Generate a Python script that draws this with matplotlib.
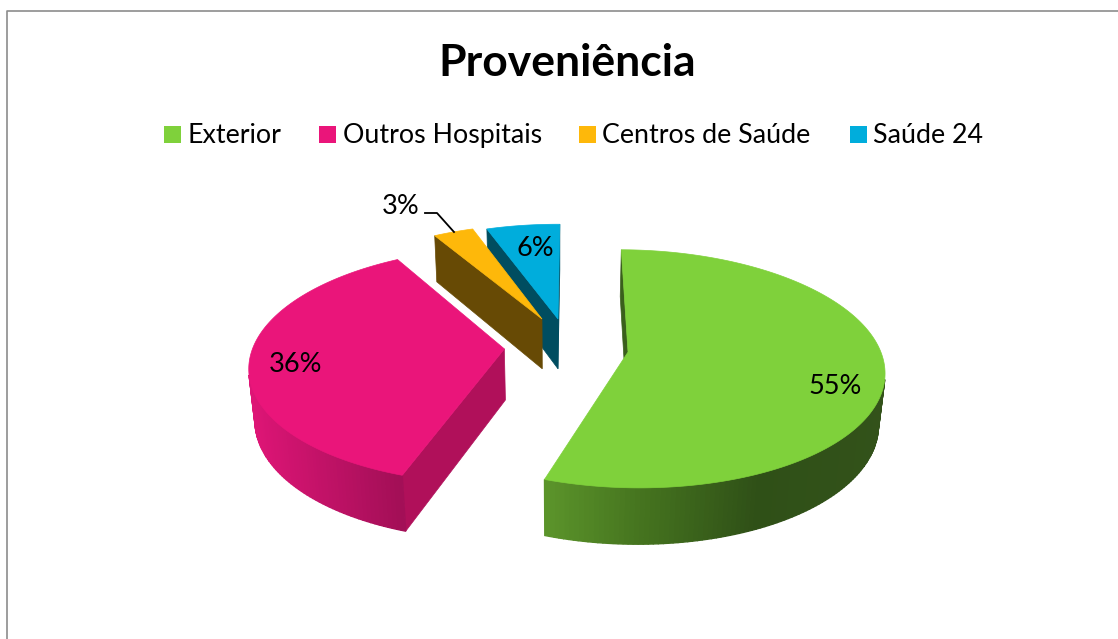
import numpy as np
import matplotlib
matplotlib.use('Agg')
import matplotlib.pyplot as plt
from matplotlib.colors import to_rgb

plt.rcParams['font.family'] = ['Lato', 'DejaVu Sans']

# data
categories = ['Exterior', 'Outros Hospitais', 'Centros de Saúde', 'Saúde 24']
values = [55.1, 36.4, 3.0, 5.5]

# colours
top_colors = ['#7FD13B', '#EA157A', '#FEB80A', '#00ADDC']
wall_colors = ['#3A5F1C', '#B0105A', '#674A05', '#004D60']
# outer wall shading, by screen x
shade_x = [[545, 640, 760, 890], [250, 400, 410, 420], [0, 1], [0, 1]]
shade_c = [['#5C952B', '#46751F', '#2F5017', '#33521A'],
           ['#DE1576', '#A30F57', '#A30F57', '#A30F57'],
           ['#674A05', '#674A05'], ['#004D60', '#004D60']]

# view settings (pixels)
vx, cy = 558, 346
a, b, h = 251, 115, 52
p, q = 0.14, 0.02
first_angle = 0.5
# how far each slice is pulled out, in radii
offset_x = [0.277, -0.213, -0.066, 0.0]
offset_y = [0.052, 0.025, -0.243, -0.243]


def project(x, y, z=0.0):
    w = 1 - p * y + q * z
    return vx + a * x / w, cy + (b * y + h * z) / w


def signed_area(pts):
    pts = np.array(pts)
    x, y = pts[:, 0], pts[:, 1]
    return np.sum(x * np.roll(y, -1) - np.roll(x, -1) * y) / 2


def draw_slice(ax, i, t0, t1):
    ox, oy = offset_x[i], offset_y[i]
    th = np.radians(np.linspace(t0, t1, int(t1 - t0) + 2))
    xs = ox + np.sin(th)
    ys = oy - np.cos(th)

    # flat cut walls
    for x1, y1, x2, y2 in [(ox, oy, xs[0], ys[0]), (xs[-1], ys[-1], ox, oy)]:
        quad = [project(x1, y1), project(x2, y2), project(x2, y2, 1), project(x1, y1, 1)]
        if signed_area(quad) < 0:
            ax.fill(*zip(*quad), color=wall_colors[i], lw=0.5)

    # curved outer wall
    c = np.array([to_rgb(s) for s in shade_c[i]])
    for k in range(len(xs) - 1):
        quad = [project(xs[k], ys[k]), project(xs[k + 1], ys[k + 1]),
                project(xs[k + 1], ys[k + 1], 1), project(xs[k], ys[k], 1)]
        if signed_area(quad) < 0:
            sx = quad[0][0]
            col = [np.interp(sx, shade_x[i], c[:, n]) for n in range(3)]
            ax.fill(*zip(*quad), color=col, lw=1.0)

    # top face
    top = [project(ox, oy)] + [project(x, y) for x, y in zip(xs, ys)]
    ax.fill(*zip(*top), color=top_colors[i], lw=0.5)


fig = plt.figure(figsize=(11.18, 6.39), dpi=100)
ax = fig.add_axes([0, 0, 1, 1])
ax.set_xlim(0, 1118)
ax.set_ylim(639, 0)
ax.axis('off')

# chart border, only left and top are in frame
ax.plot([7, 7, 1118], [639, 10.5, 10.5], color='#8C8C8C', lw=1.2)

edges = np.concatenate([[0], np.cumsum(values)]) / np.sum(values) * 360 + first_angle
for i in [3, 2, 1, 0]:
    draw_slice(ax, i, edges[i], edges[i + 1])

# title and legend
ax.text(567, 63.5, 'Proveniência', fontsize=32, fontweight='bold', ha='center', va='center', color='black')
legend_box = [164, 319, 579, 850]
legend_text = [187, 343, 602, 873]
for i, name in enumerate(categories):
    ax.fill([legend_box[i], legend_box[i] + 17, legend_box[i] + 17, legend_box[i]],
            [126, 126, 143, 143], color=top_colors[i], lw=0)
    ax.text(legend_text[i], 135.5, name, fontsize=19.3, va='center', ha='left', color='black')

# slice labels
label_x = [835, 296, 401, 535]
label_y = [386, 364, 207, 248]
for i, v in enumerate(values):
    ax.text(label_x[i], label_y[i], f'{v:.0f}%', fontsize=19.5, ha='center', va='center', color='black')
ax.plot([425, 437, 454], [213, 213, 232], color='black', lw=1.3)

fig.savefig('out.png', dpi=100)
